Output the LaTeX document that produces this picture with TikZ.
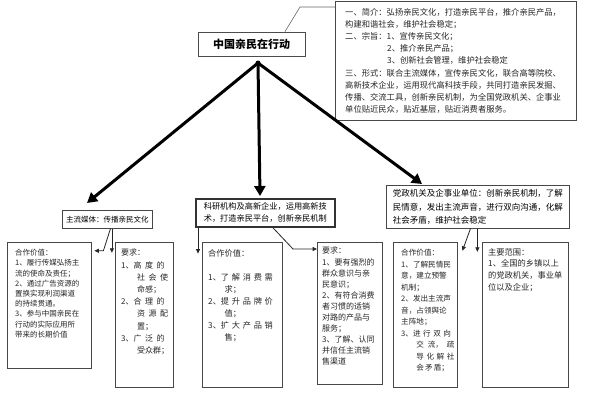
\documentclass[tikz,border=0pt]{standalone}
\usepackage{fontspec}
\newfontfamily\cjk{Noto Sans CJK SC}
\usetikzlibrary{arrows.meta}
\newcommand\fsz[2]{\fontsize{#1}{#2}\selectfont}
\newcommand\jb[2]{\makebox[#1][s]{#2}}
\tikzset{
  box/.style={draw=black!72, line width=0.8pt, inner sep=0pt, anchor=north west},
  txt/.style={anchor=north west, inner sep=0pt, align=left, text=black!85},
  bigarrow/.style={line width=3pt, line cap=round, -{Triangle[length=10pt,width=11pt]}},
  sarrow/.style={line width=0.8pt, draw=black!85, -{Triangle[length=4.5pt,width=4pt]}},
}
\begin{document}
\begin{tikzpicture}[x=1pt,y=-1pt]
\useasboundingbox (0,0) rectangle (600,400);
\fill[white] (0,0) rectangle (600,400);

% title and information box
\node[draw=black!70, line width=0.8pt, minimum width=107pt, minimum height=24pt, inner sep=0pt,
      font=\cjk\fsz{11}{13}\bfseries] (title) at (251.5,44) {中国亲民在行动};
\node[box, minimum width=241pt, minimum height=119pt] (info) at (335,1) {};
\node[txt, font=\cjk\fsz{8.3}{12.2}] (infot) at (345,7.8) {%
一、简介：弘扬亲民文化，打造亲民平台，推介亲民产品，\\
构建和谐社会，维护社会稳定；\\
二、宗旨：1、宣传亲民文化；\\
\hspace*{42pt}2、推介亲民产品；\\
\hspace*{42pt}3、创新社会管理，维护社会稳定\\
三、形式：联合主流媒体，宣传亲民文化，联合高等院校、\\
高新技术企业，运用现代高科技手段，共同打造亲民发掘、\\
传播、交流工具，创新亲民机制，为全国党政机关、企事业\\
单位贴近民众，贴近基层，贴近消费者服务。};
\coordinate (k) at (300,7);
\draw[black!60, line width=0.6pt] ([xshift=33.5pt]title.north) -- (k) -- (info.west |- k);

% second level
\node[box, minimum width=90pt, minimum height=18pt, font=\cjk\fsz{7.5}{9}] (lbox) at (62,210) {主流媒体：传播亲民文化};
\node[box, line width=1.6pt, draw=black!80, minimum width=139pt, minimum height=28pt, align=left,
      font=\cjk\fsz{8.2}{12}] (mbox) at (195,198) {科研机构及高新企业，运用高新技\\术，打造亲民平台，创新亲民机制};
\node[box, minimum width=183pt, minimum height=43pt, align=left,
      font=\cjk\fsz{8.5}{13.2}] (rbox) at (386,185) {党政机关及企事业单位：创新亲民机制，了解\\民情意，发出主流声音，进行双向沟通，化解\\社会矛盾，维护社会稳定};

% big arrows
\coordinate (apex) at (258,63);
\coordinate (lt) at (87,203);
\coordinate (mt) at (260,196);
\coordinate (rt) at (422,184);
\draw[bigarrow] (apex) -- (lt);
\draw[bigarrow] (apex) -- (mt);
\draw[bigarrow] (apex) -- (rt);
\fill (apex) circle (2.5pt);

% third level boxes
\node[box, minimum width=84pt, minimum height=126pt] (ba) at (7,242) {};
\node[txt, font=\cjk\fsz{7.5}{10.2}] (ta) at (15,249.2) {%
合作价值：\\
1、履行传媒弘扬主\\
流的使命及责任；\\
2、通过广告资源的\\
置换实现利润渠道\\
的持续贯通。\\
3、参与中国亲民在\\
行动的实际应用所\\
带来的长期价值};

\node[box, minimum width=58pt, minimum height=145pt] (bb) at (115,242) {};
\node[txt, font=\cjk\fsz{8}{12.2}] (tb) at (121,249) {%
要求：\\
1、\jb{31pt}{高 度 的}\\
\hspace*{16pt}\jb{31pt}{社 会 使}\\
\hspace*{16pt}命感；\\
2、\jb{31pt}{合 理 的}\\
\hspace*{16pt}\jb{31pt}{资 源 配}\\
\hspace*{16pt}置；\\
3、\jb{31pt}{广 泛 的}\\
\hspace*{16pt}受众群；};

\node[box, minimum width=80pt, minimum height=145pt] (bc) at (202,242) {};
\node[txt, font=\cjk\fsz{8.2}{12}] (tc) at (208,248.9) {%
合作价值：\\
\mbox{}\\
1、\jb{52pt}{了 解 消 费 需}\\
\hspace*{16.4pt}求；\\
2、\jb{52pt}{提 升 品 牌 价}\\
\hspace*{16.4pt}值；\\
3、\jb{52pt}{扩 大 产 品 销}\\
\hspace*{16.4pt}售；};

\node[box, minimum width=65pt, minimum height=142pt] (bd) at (317,242) {};
\node[txt, font=\cjk\fsz{8}{11.1}] (td) at (322,247) {%
要求：\\
1、要有强烈的\\
群众意识与亲\\
民意识；\\
2、有符合消费\\
者习惯的适销\\
对路的产品与\\
服务；\\
3、了解、认同\\
并信任主流销\\
售渠道};

\node[box, minimum width=64pt, minimum height=145pt] (be) at (393,242) {};
\node[txt, font=\cjk\fsz{7.6}{11.5}] (te) at (401,249.2) {%
合作价值：\\
1、了解民情民\\
意，建立预警\\
机制；\\
2、发出主流声\\
音，占领舆论\\
主阵地；\\
3、\jb{38pt}{进 行 双 向}\\
\hspace*{15.2pt}\jb{38pt}{交 流， 疏}\\
\hspace*{15.2pt}\jb{38pt}{导 化 解 社}\\
\hspace*{15.2pt}\jb{32pt}{会 矛 盾；}};

\node[box, minimum width=86pt, minimum height=145pt] (bf) at (482,242) {};
\node[txt, font=\cjk\fsz{8.25}{11.7}] (tf) at (488,247.9) {%
主要范围：\\
1、全国的乡镇以上\\
的党政机关，事业单\\
位以及企业；};

% small connectors
\draw[sarrow] ([xshift=3pt]lbox.south) -- ++(-7,22) -- ++(-9,0);
\draw[sarrow] ([xshift=4.5pt]lbox.south) -- ++(0,24);
\draw[sarrow] ([xshift=3pt]mbox.south west) -- ++(0,26);
\coordinate (dj) at (293,249);
\draw[sarrow] ([xshift=7.5pt]mbox.south) -- (dj) -- (dj -| bd.west);
\draw[sarrow] ([xshift=-7.5pt]rbox.south) -- ++(-8,22);
\draw[sarrow] ([xshift=-0.5pt]rbox.south) -- ++(0,23);
\end{tikzpicture}
\end{document}
